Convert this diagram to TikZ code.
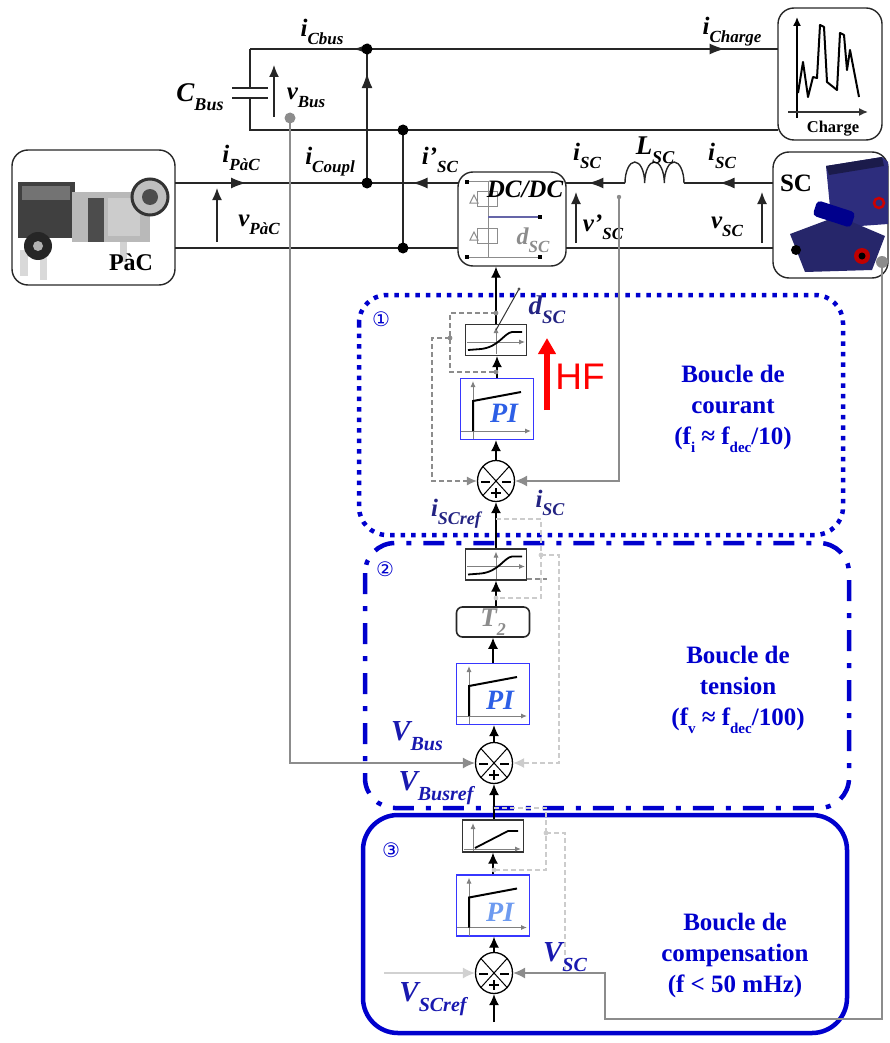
\documentclass[tikz,border=0pt]{standalone}
\usepackage{fontspec}
\usepackage{graphicx}
\setmainfont{Liberation Serif}
\newfontfamily\hfsans{Liberation Sans}
\newfontfamily\djv{DejaVu Sans}
\usetikzlibrary{arrows.meta,decorations.markings,shapes.geometric,calc}
\definecolor{loopblue}{RGB}{0,0,205}
\definecolor{labblue}{RGB}{35,35,130}
\definecolor{vblue}{RGB}{25,25,175}
\definecolor{piblue}{RGB}{45,95,230}
\definecolor{pilight}{RGB}{110,155,240}
\definecolor{piframe}{RGB}{55,55,255}
\definecolor{modblue}{RGB}{45,45,125}
\newcommand\lbl[4]{{\fontsize{#1}{#1}\selectfont\bfseries\itshape #3\raisebox{-0.32em}{\fontsize{#2}{#2}\selectfont #4}}}
\newcommand\loopsub[1]{\raisebox{-0.3em}{\fontsize{15}{15}\selectfont #1}}
\begin{document}
\begin{tikzpicture}[x=1pt,y=-1pt,
  wire/.style={line width=1.4pt,draw=black!85},
  varr/.style={line width=1.4pt,draw=black!85,-{Latex[length=12pt,width=10pt]}},
  marr/.style={postaction={decorate,decoration={markings,mark=at position #1 with {\arrow{Latex[length=15pt,width=11pt]}}}}},
  jdot/.style={circle,fill=black,inner sep=0pt,minimum size=11pt},
  devbox/.style={draw=black!85,line width=1.4pt,rounded corners=16pt,inner sep=0pt},
  carr/.style={line width=1.3pt,draw=black,-{Latex[length=11pt,width=10pt]}},
  fb/.style={line width=1.2pt,draw=black!45,-{Latex[length=12pt,width=11pt]}},
  fbl/.style={line width=1.2pt,draw=black!18,-{Latex[length=12pt,width=11pt]}},
  aw/.style={line width=1.1pt,draw=black!45,dash pattern=on 5pt off 3pt},
  awl/.style={line width=1.1pt,draw=black!20,dash pattern=on 5pt off 3pt},
  satbox/.style={draw=black!80,line width=1.4pt,fill=white,minimum width=61pt,minimum height=31pt,inner sep=0pt},
  pibox/.style={draw=piframe,line width=1.3pt,fill=white,minimum width=73pt,minimum height=61pt,inner sep=0pt},
  cmp/.style={ellipse,draw=black,line width=1.3pt,fill=white,minimum width=37pt,minimum height=41pt,inner sep=0pt},
  pitext/.style={font=\fontsize{28}{28}\selectfont\bfseries\itshape,inner sep=0pt},
  looptxt/.style={font=\fontsize{25}{31}\selectfont\bfseries,text=loopblue,align=center,inner sep=0pt},
  num/.style={font=\djv\fontsize{20}{20}\selectfont,text=loopblue,inner sep=0pt},
  lab/.style={inner sep=0pt},
  sigm/.pic={
    \draw[black!50,line width=1pt,-{Latex[length=6pt,width=5pt]}] (-29,2) -- (29,2);
    \draw[black!50,line width=1pt,-{Latex[length=6pt,width=5pt]}] (0,14) -- (0,-13);
    \draw[black,line width=1.8pt] (-28,10) -- (-15,9) .. controls (3,7) and (8,-7) .. (16,-8) -- (26,-8);
  },
  limit/.pic={
    \draw[black!50,line width=1pt,-{Latex[length=6pt,width=5pt]}] (-29,13) -- (28,13);
    \draw[black!50,line width=1pt,-{Latex[length=6pt,width=5pt]}] (-20,15) -- (-20,-13);
    \draw[black,line width=1.8pt] (-18,12) -- (15,-5) -- (25,-5);
  },
  pistep/.pic={
    \draw[black!50,line width=1pt,-{Latex[length=6pt,width=5pt]}] (-36,22) -- (34,22);
    \draw[black!50,line width=1pt,-{Latex[length=6pt,width=5pt]}] (-24,30) -- (-24,-28);
    \draw[black,line width=2pt] (-24,22) -- (-24,-8) -- (24,-17);
  }
]
\useasboundingbox (0,0) rectangle (890,1043);

% ---------------- control loops frames
\draw[loopblue,line width=4.5pt,dash pattern=on 4.5pt off 6pt,rounded corners=28pt] (359,295) rectangle (843,535);
\draw[loopblue,line width=4.5pt,dash pattern=on 21pt off 12pt on 5pt off 12pt,rounded corners=30pt] (365,543) rectangle (849,808);
\draw[loopblue,line width=4.5pt,rounded corners=35pt] (363,815) rectangle (847,1033);

% ---------------- devices
\node[devbox,minimum width=163pt,minimum height=135pt] (pac) at (93.5,217.5) {};
\node[devbox,minimum width=104pt,minimum height=132pt] (charge) at (830,74) {};
\node[devbox,minimum width=115pt,minimum height=126pt] (sc) at (830.5,215) {};
\node[devbox,rounded corners=15pt,minimum width=108pt,minimum height=94pt] (dcdc) at (512,219) {};

% PaC stylised picture
\fill[gray!30] (20,250) rectangle (28,276);
\fill[gray!30] (40,255) rectangle (47,280);
\fill[gray!35] (120,240) rectangle (127,262);
\fill[black!75] (18,182) rectangle (75,238);
\fill[black!55] (22,186) rectangle (70,200);
\fill[gray!55] (72,192) rectangle (150,242);
\fill[black!70] (88,198) rectangle (104,242);
\fill[gray!40] (108,198) rectangle (140,236);
\draw[black!80,line width=3pt,fill=gray!50] (150,197) circle (18);
\fill[black!70] (150,197) circle (8);
\fill[black!85] (38,246) circle (14);
\fill[gray!60] (38,246) circle (5);
\node[lab,font=\fontsize{24}{24}\selectfont\bfseries] (pactxt) at (131,262) {PàC};

% SC stylised picture
\fill[modblue] (826,166) -- (882,157) -- (888,162) -- (888,224) -- (832,228) -- cycle;
\fill[modblue!60!black] (826,166) -- (882,157) -- (884,166) -- (829,175) -- cycle;
\fill[modblue!85!black] (790,234) -- (838,216) -- (885,236) -- (872,270) -- (805,272) -- cycle;
\fill[blue!55!black,rounded corners=4pt,rotate around={-18:(834,214)}] (814,206) rectangle (854,222);
\draw[red!80!black,line width=2.5pt] (879,203) circle (5);
\fill[red!75!black] (862,256) circle (8);
\fill[black] (862,256) circle (3.5);
\fill[black] (796,250) circle (5);
\node[lab,font=\fontsize{25}{25}\selectfont\bfseries] (sctxt) at (796,183) {SC};

% Charge plot
\draw[black,line width=1.5pt,-{Latex[length=9pt,width=8pt]}] (797,118) -- (797,17);
\draw[black!80,line width=1.5pt,-{Latex[length=9pt,width=8pt]}] (788,112) -- (868,112);
\draw[black,line width=2pt,line join=round] (798,93) -- (803,62) -- (808,97) -- (813,77) -- (817,78) -- (820,25) -- (824,27) -- (827,82) -- (837,90) -- (840,33) -- (844,35) -- (847,70) -- (850,50) -- (859,97);
\node[lab,font=\fontsize{16.5}{16.5}\selectfont\bfseries] (chtxt) at (833,129) {Charge};

% DC/DC inner circuit
\draw[black!45,line width=1pt] (467,182) -- (488,182) -- (488,257);
\draw[black!45,line width=1pt] (467,257) -- (540,257);
\draw[black!45,line width=1pt] (477,191) rectangle (497,206);
\draw[black!45,line width=1pt] (477,228) rectangle (497,243);
\draw[black!45,line width=1pt] (470,203) -- (478,203) -- (474,195) -- cycle;
\draw[black!45,line width=1pt] (470,240) -- (478,240) -- (474,232) -- cycle;
\draw[labblue!70,line width=1.2pt] (488,217) -- (540,217);
\fill[black] (465,180) rectangle (469,184);
\fill[black] (465,255) rectangle (469,259);
\fill[black] (538,255) rectangle (542,259);
\fill[black] (538,215) rectangle (542,219);
\node[lab,font=\fontsize{25}{25}\selectfont\bfseries\itshape] (dctxt) at (525,189) {DC/DC};
\node[lab,text=black!45] (dsc1) at (533,240) {\lbl{24}{17}{d}{SC}};

% ---------------- power circuit
\coordinate (tl) at (250,49);
\coordinate (tr) at (778,49);
\coordinate (bl) at (250,130);
\coordinate (br) at (778,130);
\coordinate (j1) at (367,49);
\coordinate (j2) at (367,183);
\coordinate (j3) at (403,130);
\coordinate (j4) at (403,248);
\coordinate (c1) at (250,88);
\coordinate (c2) at (250,98);
\draw[wire,marr=0.115] (j1) -- (tl);
\draw[wire,marr=0.87] (j1) -- (tr);
\draw[wire] (tl) -- (c1);
\draw[wire] (c2) -- (bl) -- (br);
\draw[wire] (232,88) -- (268,88);
\draw[wire] (232,98) -- (268,98);
\draw[wire,marr=0.82] (j2) -- (j1);
\draw[wire] (j3) -- (j4);
\coordinate (pt) at (175,183);
\coordinate (pb) at (175,248);
\coordinate (dl1) at (458,183);
\coordinate (dl2) at (458,248);
\coordinate (dr1) at (566,183);
\coordinate (dr2) at (566,248);
\coordinate (st) at (773,183);
\coordinate (sb) at (773,248);
\coordinate (lA) at (625,183);
\coordinate (lB) at (684,183);
\draw[wire,marr=0.37] (pt) -- (j2);
\draw[wire,marr=0.5] (dl1) -- (j2);
\draw[wire] (pb) -- (dl2);
\draw[wire,marr=0.62] (lA) -- (dr1);
\draw[wire,marr=0.6] (st) -- (lB);
\draw[wire] (lA) arc[start angle=180,end angle=360,x radius=9.83,y radius=21]
  arc[start angle=180,end angle=360,x radius=9.83,y radius=21]
  arc[start angle=180,end angle=360,x radius=9.83,y radius=21];
\draw[wire] (dr2) -- (sb);
\node[jdot] (d1) at (j1) {};
\node[jdot] (d2) at (j2) {};
\node[jdot] (d3) at (j3) {};
\node[jdot] (d4) at (j4) {};

% voltage arrows
\coordinate (vb1) at (274,117); \coordinate (vb2) at (274,65);
\coordinate (vp1) at (217,242); \coordinate (vp2) at (217,188);
\coordinate (vs1) at (576,243); \coordinate (vs2) at (576,192);
\coordinate (vc1) at (762,243); \coordinate (vc2) at (762,192);
\draw[varr] (vb1) -- (vb2);
\draw[varr] (vp1) -- (vp2);
\draw[varr] (vs1) -- (vs2);
\draw[varr] (vc1) -- (vc2);

% circuit labels
\node[lab] (lcb) at (322,32) {\lbl{25}{17}{i}{Cbus}};
\node[lab] (lch) at (732,32) {\lbl{25}{17}{i}{Charge}};
\node[lab] (lcap) at (200,97) {\lbl{27}{18}{C}{Bus}};
\node[lab] (lvb) at (306,98) {\lbl{25}{17}{v}{Bus}};
\node[lab] (lcp) at (330,162) {\lbl{25}{17}{i}{Coupl}};
\node[lab] (lip) at (241,158) {\lbl{25}{17}{i}{PàC}};
\node[lab] (lvp) at (259,225) {\lbl{25}{17}{v}{PàC}};
\node[lab] (lisp) at (440,160) {\lbl{25}{17}{i’}{SC}};
\node[lab] (lis1) at (587,156) {\lbl{25}{17}{i}{SC}};
\node[lab] (llsc) at (655,150) {\lbl{27}{18}{L}{SC}};
\node[lab] (lis2) at (722,156) {\lbl{25}{17}{i}{SC}};
\node[lab] (lvsp) at (603,227) {\lbl{25}{17}{v’}{SC}};
\node[lab] (lvs) at (727,227) {\lbl{25}{17}{v}{SC}};

% ---------------- control blocks
\node[satbox] (sat1) at (496,340) {};
\pic at (496,340) {sigm};
\node[pibox] (pi1) at (497,409) {};
\pic at (497,409) {pistep};
\node[pitext,text=piblue] (pt1) at (504,413) {PI};
\node[cmp] (cmp1) at (496,481) {};

\node[satbox] (sat2) at (496,564.5) {};
\pic at (496,564.5) {sigm};
\node[draw=black!85,line width=1.6pt,rounded corners=6pt,minimum width=73pt,minimum height=30pt,inner sep=0pt,text=black!45] (t2) at (493,622) {\lbl{27}{18}{T}{2}};
\node[pibox] (pi2) at (493,694) {};
\pic at (493,694) {pistep};
\node[pitext,text=piblue] (pt2) at (500,700) {PI};
\node[cmp] (cmp2) at (494,763) {};

\node[satbox,minimum height=32pt] (sat3) at (493,836) {};
\pic at (493,836) {limit};
\node[pibox] (pi3) at (493,905.5) {};
\pic at (493,905.5) {pistep};
\node[pitext,text=pilight] (pt3) at (500,912) {PI};
\node[cmp] (cmp3) at (494,973) {};

% comparator signs
\foreach \c in {cmp1,cmp2,cmp3}{
  \draw[line width=1pt] (\c.north west) -- (\c.south east);
  \draw[line width=1pt] (\c.north east) -- (\c.south west);
  \draw[line width=1.7pt] ($(\c)+(-15,1)$) -- ($(\c)+(-6,1)$);
  \draw[line width=1.7pt] ($(\c)+(6,1)$) -- ($(\c)+(15,1)$);
  \draw[line width=1.7pt] ($(\c)+(-5,12)$) -- ($(\c)+(5,12)$);
  \draw[line width=1.7pt] ($(\c)+(0,7)$) -- ($(\c)+(0,17)$);
}

% main chain arrows
\draw[carr] (sat1.north) -- (sat1.north |- dcdc.south);
\draw[carr] (pi1.north) -- (pi1.north |- sat1.south);
\draw[carr] (cmp1.north) -- (cmp1.north |- pi1.south);
\draw[carr] (sat2.north) -- (sat2.north |- cmp1.south);
\draw[carr] (t2.north -| sat2) -- (sat2.south);
\draw[carr] (pi2.north) -- (t2.south -| pi2);
\draw[carr] (cmp2.north) -- (cmp2.north |- pi2.south);
\draw[carr] (sat3.north -| cmp2) -- (cmp2.south);
\draw[carr] (pi3.north) -- (sat3.south);
\draw[carr] (cmp3.north) -- (cmp3.north |- pi3.south);
\coordinate (ref3) at (494,1022);
\draw[carr] (ref3) -- (cmp3.south);

% d_SC slash
\coordinate (ds1) at (496,330);
\coordinate (ds2) at (519,289);
\draw[black!80,line width=1pt] (ds1) -- (ds2);
\fill[black!70] (ds2) circle (1.6);

% anti-windup dashed lines
\draw[aw] (496,313) -- (450,313) -- (450,372) -- (496,372);
\draw[aw,-{Latex[length=10pt,width=9pt]}] (450,338) -- (432,338) -- (432,481) -- (cmp1.west);
\foreach \p in {(496,313),(496,372),(450,338)} \fill[black!45] \p circle (2.4);
\draw[awl] (496,519) -- (541,519) -- (541,598) -- (496,598);
\draw[awl,-{Latex[length=11pt,width=10pt]}] (541,555) -- (559,555) -- (559,763) -- (cmp2.east);
\fill[black!20] (541,555) circle (2.4);
\fill[black!20] (496,598) circle (2.4);
\draw[aw] (527,579) -- (547,579);
\draw[awl] (494,808) -- (546,808) -- (546,870) -- (494,870);
\draw[awl] (546,833) -- (565,833) -- (565,973);
\fill[black!20] (546,833) circle (2.4);
\fill[black!20] (494,870) circle (2.4);

% feedback lines
\coordinate (vbdot) at (290,118);
\coordinate (vpdot) at (619,197);
\coordinate (scdot) at (882,262);
\draw[fb] (vbdot) -- (vbdot |- cmp2.west) -- (cmp2.west);
\draw[fb] (vpdot) -- (vpdot |- cmp1.east) -- (cmp1.east);
\draw[fb] (scdot) -- (882,1019) -- (605,1019) -- (605,973) -- (cmp3.east);
\coordinate (vin3) at (384,973);
\draw[fbl] (vin3) -- (cmp3.west);
\fill[black!45] (vbdot) circle (5.5);
\fill[black!45] (scdot) circle (6);
\fill[black!45] (vpdot) circle (2.2);

% HF arrow
\coordinate (hf1) at (547,410);
\coordinate (hf2) at (547,338);
\draw[red,line width=6pt,-{Triangle[length=16pt,width=17pt]}] (hf1) -- (hf2);
\node[lab,text=red,font=\hfsans\fontsize{37}{37}\selectfont] (hft) at (580,377) {HF};

% control labels
\node[lab,text=labblue] (ldsc) at (547,310) {\lbl{27}{19}{d}{SC}};
\node[lab,text=labblue] (lisr) at (456,514) {\lbl{25}{18}{i}{SCref}};
\node[lab,text=labblue] (lisc) at (550,503) {\lbl{25}{18}{i}{SC}};
\node[lab,text=vblue] (lvbus) at (417,736) {\lbl{29}{20}{V}{Bus}};
\node[lab,text=vblue] (lvbr) at (436,788) {\lbl{29}{20}{V}{Busref}};
\node[lab,text=vblue] (lvsc) at (565,957) {\lbl{29}{20}{V}{SC}};
\node[lab,text=vblue] (lvscr) at (433,999) {\lbl{29}{20}{V}{SCref}};

% loop numbers and texts
\node[num] (n1) at (381,319) {①};
\node[num] (n2) at (385,569) {②};
\node[num] (n3) at (391,850) {③};
\node[looptxt] (tx1) at (733,409) {Boucle de\\courant\\(f\loopsub{i} ≈ f\loopsub{dec}/10)};
\node[looptxt] (tx2) at (738,690) {Boucle de\\tension\\(f\loopsub{v} ≈ f\loopsub{dec}/100)};
\node[looptxt] (tx3) at (735,955) {Boucle de\\compensation\\(f < 50 mHz)};
\end{tikzpicture}
\end{document}
